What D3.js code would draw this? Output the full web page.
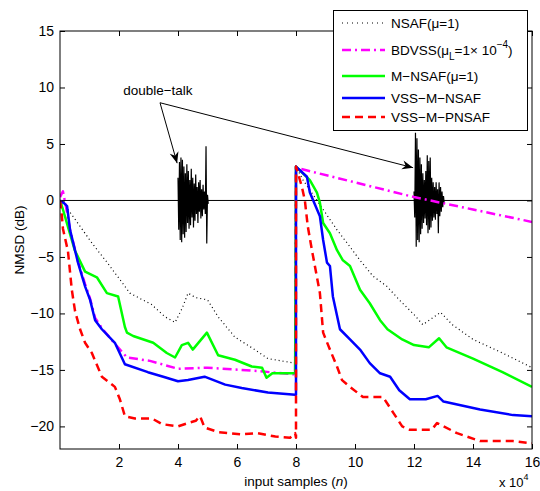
<!DOCTYPE html>
<html>
<head>
<meta charset="utf-8">
<script src="https://cdn.jsdelivr.net/npm/d3@7"></script>
<style>
  body { margin: 0; background: #fff; }
  text { font-family: "Liberation Sans", Arial, sans-serif; fill: #000; }
</style>
</head>
<body>
<svg id="vis"></svg>
<script>
const svg = d3.select("#vis").attr("width", 540).attr("height", 491);

// x in units of 10^4 samples, y in dB
const xTicks = [2, 4, 6, 8, 10, 12, 14, 16];
const yTicks = [-20, -15, -10, -5, 0, 5, 10, 15];

const nsafX = [0, 0.27, 0.6, 1.12, 1.6, 2.0, 2.37, 2.8, 3.1, 3.56, 3.9, 4.15, 4.34, 4.6, 5.0, 5.36, 5.93, 6.6, 7.05, 7.5, 7.97, 8.0,
               8.24, 8.92, 9.39, 9.83, 10.17, 10.61, 11.08, 11.5, 12.0, 12.3, 12.9, 13.3, 14.0, 15.0, 16.0];
const nsafY = [0, -0.8, -2.0, -3.9, -5.5, -6.9, -8.2, -8.8, -9.2, -10.3, -10.8, -9.5, -8.2, -8.6, -8.8, -10.3, -12.1, -13.2, -14.0, -14.2, -14.4, 3.0,
               1.8, -0.8, -2.6, -4.1, -5.3, -6.7, -7.6, -8.8, -10.1, -11.0, -9.9, -11.0, -12.3, -13.5, -14.8];

const bdvssX = [0, 0.1, 0.2, 0.34, 0.61, 0.85, 1.02, 1.19, 1.42, 1.8, 2.27, 3.05, 4.0, 5.0, 6.16, 6.7, 7.97, 8.0, 10, 12, 14, 16];
const bdvssY = [0.3, 0.8, -0.5, -2.6, -5.4, -7.4, -8.7, -10.4, -11.3, -12.5, -13.9, -14.2, -14.9, -14.8, -15.0, -15.1, -15.4, 2.9, 1.6, 0.3, -0.8, -1.9];

const mnsafX = [0, 0.1, 0.3, 0.5, 0.85, 1.25, 1.59, 1.97, 2.2, 2.27, 2.48, 3.16, 3.62, 3.9, 4.13, 4.34, 4.5, 4.98, 5.36, 5.93, 6.5, 6.85, 7.0, 7.2, 7.97, 8.0,
                8.47, 8.71, 8.81, 8.92, 9.15, 9.39, 9.59, 9.83, 10.17, 10.5, 10.85, 11.1, 11.6, 12.0, 12.5, 12.85, 13.1, 14.0, 15.0, 16.0];
const mnsafY = [0, -0.8, -2.6, -4.4, -6.3, -6.8, -8.2, -8.5, -11.2, -11.7, -12.0, -12.6, -13.5, -13.9, -12.8, -12.6, -13.2, -11.7, -13.7, -14.1, -14.7, -14.8, -15.7, -15.3, -15.3, 3.0,
                1.8, 0.7, -0.2, -2.0, -2.9, -4.4, -5.3, -5.8, -7.9, -9.1, -10.6, -11.4, -12.3, -12.8, -13.0, -12.2, -13.0, -14.0, -15.2, -16.5];

const vssX = [0, 0.12, 0.24, 0.34, 0.61, 0.85, 1.02, 1.19, 1.42, 1.86, 2.2, 2.98, 3.5, 4.0, 4.34, 4.9, 5.6, 6.16, 7.05, 7.97, 8.0, 8.0,
              8.37, 8.47, 8.81, 8.92, 9.05, 9.15, 9.25, 9.49, 9.83, 10.17, 10.5, 10.85, 11.19, 11.5, 11.86, 12.4, 12.8, 13.0, 14.24, 15.36, 16.0];
const vssY = [0, -0.2, -0.5, -2.6, -5.5, -7.6, -8.8, -10.6, -11.4, -12.6, -14.5, -15.2, -15.6, -16.0, -15.9, -15.6, -16.3, -16.6, -17.0, -17.2, -17.2, 3.0,
              2.1, 0.7, -1.4, -3.5, -5.5, -5.8, -8.5, -11.4, -12.3, -13.2, -14.4, -15.3, -15.6, -16.8, -17.6, -17.6, -17.3, -17.8, -18.5, -19.0, -19.1];

const pnsafX = [0, 0.05, 0.1, 0.27, 0.4, 0.51, 0.68, 0.85, 1.08, 1.42, 1.86, 2.03, 2.2, 2.54, 3.12, 3.46, 4.0, 4.34, 4.6, 4.75, 4.9, 5.36, 6.16, 6.7, 7.3, 7.8, 7.97, 8.0, 8.0,
                8.2, 8.3, 8.4, 8.54, 8.64, 8.81, 8.92, 9.15, 9.39, 9.56, 9.83, 10.27, 10.95, 11.3, 11.6, 11.86, 12.6, 12.78, 13.46, 14.24, 15.36, 16.0];
const pnsafY = [0, -1.0, -2.5, -4.5, -7.9, -9.8, -11.4, -12.6, -13.5, -15.6, -16.5, -17.6, -19.1, -19.3, -19.3, -19.8, -20.0, -19.7, -19.5, -19.1, -20.1, -20.5, -20.7, -20.6, -20.9, -21.0, -20.6, -21.0, 3.0,
                1.2, 0.0, -2.3, -4.4, -5.8, -8.2, -11.7, -13.2, -14.7, -15.9, -16.5, -17.4, -17.4, -18.8, -20.0, -20.3, -20.3, -19.7, -20.6, -21.3, -21.3, -21.5];

// double-talk bursts: start, sample step, alternating peak values
const burst1Start = 4.0;
const burst2Start = 12.0;
const burstStep = 0.025;
const burst1Vals = [2.0, -2.6, 3.4, -3.5, 3.8, -3.7, 3.6, -3.0, 3.0, -3.3, 2.4, -2.8, 3.2, -2.0, 2.6, -2.5, 1.8, -2.2, 2.8, -1.5, 2.0,
                    -2.4, 1.5, -1.8, 2.3, -1.2, 1.2, -2.0, 1.6, -1.0, 1.8, -1.6, 1.0, -1.4, 1.4, -0.8, 0.8, -1.2, 4.8, -3.8, 0.5, -0.3];
const burst2Vals = [0.8, -1.5, 6.0, -4.1, 5.5, -3.5, 4.5, -3.7, 3.8, -3.0, 3.2, -2.5, 2.4, -2.0, 1.8, -1.6, 2.6, -2.2, 4.0, -2.9, 3.5,
                    -2.6, 3.8, -2.4, 2.0, -1.8, 1.6, -1.5, 1.2, -1.7, 1.6, -1.2, 1.0, -2.9, 1.6, -1.4, 1.2, -1.0, 0.8, -0.6, 0.4, -0.3];

// annotation: label anchor, arrow tail, arrow heads (data units)
const noteText = {x: 2.14, y: 9.35};
const noteTail = {x: 3.39, y: 8.65};
const noteHeads = [{x: 3.97, y: 3.3}, {x: 11.97, y: 2.9}];

const legendNames = ["NSAF(\u03bc=1)", "BDVSS", "M\u2212NSAF(\u03bc=1)", "VSS\u2212M\u2212NSAF", "VSS\u2212M\u2212PNSAF"];
const legendColors = ["black", "magenta", "#00ff00", "blue", "red"];

let xscale = d3.scaleLinear().domain([0, 16]).range([60, 532]);
let yscale = d3.scaleLinear().domain([-22, 15]).range([449, 31]);

function main() {
    svg.append("defs").append("clipPath").attr("id", "plotclip")
        .append("rect").attr("x", 60).attr("y", 31).attr("width", 472).attr("height", 418);

    const plot = svg.append("g").attr("clip-path", "url(#plotclip)");

    // zero line of the double-talk signal
    plot.append("line")
        .attr("x1", xscale(0)).attr("x2", xscale(16))
        .attr("y1", yscale(0)).attr("y2", yscale(0))
        .attr("stroke", "black").attr("stroke-width", 1);

    drawBurst(plot, burst1Start, burst1Vals);
    drawBurst(plot, burst2Start, burst2Vals);

    const series = [
        {x: nsafX, y: nsafY, color: "black", width: 1.2, dash: "1,3"},
        {x: bdvssX, y: bdvssY, color: "magenta", width: 2.5, dash: "9,4,2,4"},
        {x: mnsafX, y: mnsafY, color: "#00ff00", width: 2.5, dash: null},
        {x: vssX, y: vssY, color: "blue", width: 2.5, dash: null},
        {x: pnsafX, y: pnsafY, color: "red", width: 2.5, dash: "8,5"}
    ];
    const line = d3.line().x(d => xscale(d[0])).y(d => yscale(d[1]));
    series.forEach(s => {
        plot.append("path")
            .attr("d", line(s.x.map((v, i) => [v, s.y[i]])))
            .attr("fill", "none")
            .attr("stroke", s.color)
            .attr("stroke-width", s.width)
            .attr("stroke-linejoin", "round")
            .attr("stroke-dasharray", s.dash);
    });

    drawAnnotation();
    drawAxes();
    drawLegend();
}

function drawBurst(g, start, vals) {
    const pts = vals.map((v, i) => [start + i * burstStep, v]);
    g.append("path")
        .attr("d", d3.line().x(d => xscale(d[0])).y(d => yscale(d[1]))(pts))
        .attr("fill", "none")
        .attr("stroke", "black")
        .attr("stroke-width", 1.2);
}

function drawAnnotation() {
    svg.append("text")
        .attr("x", xscale(noteText.x))
        .attr("y", yscale(noteText.y))
        .attr("font-size", 13.5)
        .text("double\u2212talk");

    const tx = xscale(noteTail.x), ty = yscale(noteTail.y);
    noteHeads.forEach(h => {
        const hx = xscale(h.x), hy = yscale(h.y);
        svg.append("line")
            .attr("x1", tx).attr("y1", ty).attr("x2", hx).attr("y2", hy)
            .attr("stroke", "black").attr("stroke-width", 1);
        const a = Math.atan2(hy - ty, hx - tx);
        const L = 11, W = 4.5;
        const bx = hx - L * Math.cos(a), by = hy - L * Math.sin(a);
        const p = [[hx, hy],
                   [bx + W * Math.sin(a), by - W * Math.cos(a)],
                   [hx - 0.7 * L * Math.cos(a), hy - 0.7 * L * Math.sin(a)],
                   [bx - W * Math.sin(a), by + W * Math.cos(a)]];
        svg.append("path").attr("d", "M" + p.join("L") + "Z").attr("fill", "black");
    });
}

function drawAxes() {
    const bottom = svg.append("g").attr("transform", "translate(0,449)")
        .call(d3.axisBottom(xscale).tickValues(xTicks).tickSize(-5).tickPadding(8));
    const top = svg.append("g").attr("transform", "translate(0,31)")
        .call(d3.axisTop(xscale).tickValues(xTicks).tickSize(-5).tickFormat(""));
    const left = svg.append("g").attr("transform", "translate(60,0)")
        .call(d3.axisLeft(yscale).tickValues(yTicks).tickSize(-5).tickPadding(6)
            .tickFormat(d => d < 0 ? "\u2212" + Math.abs(d) : d));
    const right = svg.append("g").attr("transform", "translate(532,0)")
        .call(d3.axisRight(yscale).tickValues(yTicks).tickSize(-5).tickFormat(""));

    [bottom, top, left, right].forEach(g => {
        g.select(".domain").remove();
        g.selectAll("line").attr("stroke", "black");
        g.selectAll("text").attr("font-size", 14).attr("font-family", "Liberation Sans, Arial, sans-serif");
    });

    svg.append("rect")
        .attr("x", 60).attr("y", 31).attr("width", 472).attr("height", 418)
        .attr("fill", "none").attr("stroke", "black").attr("stroke-width", 1);

    const xl = svg.append("text")
        .attr("x", 296).attr("y", 486)
        .attr("text-anchor", "middle")
        .attr("font-size", 13.5);
    xl.append("tspan").text("input samples (");
    xl.append("tspan").attr("font-style", "italic").text("n");
    xl.append("tspan").text(")");

    svg.append("text")
        .attr("transform", "translate(24,240) rotate(-90)")
        .attr("text-anchor", "middle")
        .attr("font-size", 13.5)
        .text("NMSD (dB)");

    const ex = svg.append("text").attr("x", 499).attr("y", 487).attr("font-size", 13);
    ex.append("tspan").text("x 10");
    ex.append("tspan").attr("dy", -7).attr("font-size", 9).text("4");
}

function drawLegend() {
    const lg = svg.append("g");
    lg.append("rect")
        .attr("x", 333.5).attr("y", 10.5).attr("width", 194).attr("height", 120)
        .attr("fill", "white").attr("stroke", "black").attr("stroke-width", 1);

    const rowY = [23, 50, 76, 98, 117];
    const styles = [
        {w: 1.2, dash: "1,4"},
        {w: 2.5, dash: "9,4,2,4"},
        {w: 2.5, dash: null},
        {w: 2.5, dash: null},
        {w: 2.5, dash: "8,5"}
    ];
    legendNames.forEach((name, i) => {
        lg.append("line")
            .attr("x1", 342).attr("x2", 385)
            .attr("y1", rowY[i]).attr("y2", rowY[i])
            .attr("stroke", legendColors[i])
            .attr("stroke-width", styles[i].w)
            .attr("stroke-dasharray", styles[i].dash);
        const t = lg.append("text")
            .attr("x", 391).attr("y", rowY[i] + 5)
            .attr("font-size", 13.5);
        if (name === "BDVSS") {
            t.append("tspan").text("BDVSS(\u03bc");
            t.append("tspan").attr("dy", 5).attr("font-size", 10).text("L");
            t.append("tspan").attr("dy", -5).text("=1\u00d7 10");
            t.append("tspan").attr("dy", -7).attr("font-size", 10).text("\u22124");
            t.append("tspan").attr("dy", 7).text(")");
        } else {
            t.text(name);
        }
    });
}

main();
</script>
</body>
</html>
